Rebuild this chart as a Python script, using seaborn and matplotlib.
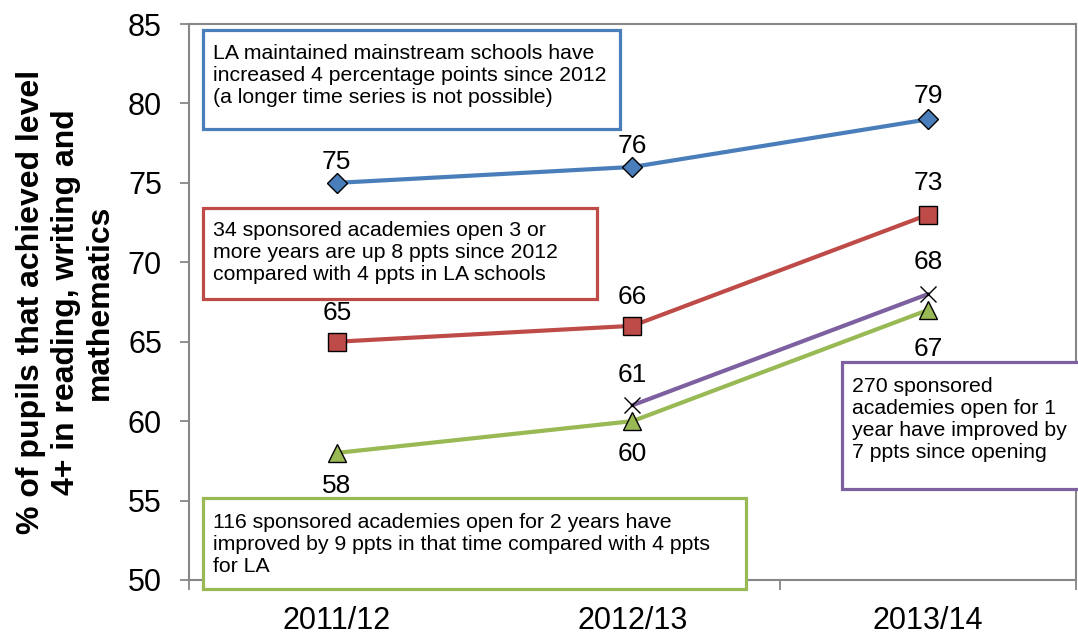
import numpy as np
import pandas as pd
import seaborn as sns
import matplotlib.pyplot as plt
from matplotlib.patches import Rectangle

years = ["2011/12", "2012/13", "2013/14"]
la_schools = [75, 76, 79]
academies_3yr = [65, 66, 73]
academies_1yr = [np.nan, 61, 68]
academies_2yr = [58, 60, 67]

series_names = ["LA maintained", "Academies 3+ yrs", "Academies 1 yr", "Academies 2 yrs"]
series_values = [la_schools, academies_3yr, academies_1yr, academies_2yr]

notes = [
    "LA maintained mainstream schools have\nincreased 4 percentage points since 2012\n(a longer time series is not possible)",
    "34 sponsored academies open 3 or\nmore years are up 8 ppts since 2012\ncompared with 4 ppts in LA schools",
    "270 sponsored\nacademies open for 1\nyear have improved by\n7 ppts since opening",
    "116 sponsored academies open for 2 years have\nimproved by 9 ppts in that time compared with 4 ppts\nfor LA",
]

df = pd.DataFrame({
    "year": years * len(series_names),
    "value": sum(series_values, []),
    "series": np.repeat(series_names, len(years)),
})

sns.set_theme(style="white")
plt.rcParams['font.family'] = ['Liberation Sans', 'DejaVu Sans']
plt.rcParams['text.color'] = 'black'
plt.rcParams['axes.labelcolor'] = 'black'

colors = {"LA maintained": "#4A7EBB", "Academies 3+ yrs": "#BE4B48",
          "Academies 1 yr": "#7D60A0", "Academies 2 yrs": "#98B954"}
markers = {"LA maintained": "D", "Academies 3+ yrs": "s",
           "Academies 1 yr": "x", "Academies 2 yrs": "^"}
msizes = {"LA maintained": 9.7, "Academies 3+ yrs": 13.5, "Academies 1 yr": 12, "Academies 2 yrs": 13.5}
# label offset in points (positive = above the point)
offsets = {"LA maintained": [15, 15, 17], "Academies 3+ yrs": [21, 21, 23],
           "Academies 1 yr": [22, 22, 23], "Academies 2 yrs": [-24, -24, -28]}

fig = plt.figure(figsize=(10.78, 6.37), dpi=100)
ax = fig.add_axes([0.1753, 0.0895, 0.8228, 0.8728])

for name in ["Academies 2 yrs", "Academies 1 yr", "Academies 3+ yrs", "LA maintained"]:
    sub = df[df["series"] == name]
    sns.lineplot(data=sub, x="year", y="value", color=colors[name], marker=markers[name],
                 ms=msizes[name], mec="black", mew=1.0, lw=3, estimator=None,
                 sort=False, ax=ax, zorder=3)
    for i, v in enumerate(sub["value"]):
        if np.isnan(v):
            continue
        ax.annotate(f"{v:.0f}", (i, v), xytext=(0, offsets[name][i]), textcoords="offset points",
                    ha="center", va="center", fontsize=19, color="black", zorder=4)

ax.set_xlim(-0.5, 2.5)
ax.set_ylim(50, 85)
ax.set_yticks(range(50, 86, 5))
ax.set_xticks(range(len(years)))
ax.set_xticklabels(years)
ax.set_xticks([-0.5, 0.5, 1.5, 2.5], minor=True)
ax.tick_params(axis="x", which="major", length=0, labelsize=22, pad=18.5, labelcolor="black")
ax.tick_params(axis="x", which="minor", length=7, width=1.3, color="#878787", direction="out", bottom=True)
ax.tick_params(axis="y", length=6.5, width=1.3, color="#878787", direction="out", left=True,
               labelsize=22, pad=13, labelcolor="black")
ax.set_xlabel("")
ax.set_ylabel("% of pupils that achieved level\n4+ in reading, writing and\nmathematics",
              fontsize=23, fontweight="bold", linespacing=1.2)
ax.yaxis.set_label_coords(-0.083, 0.5)
for sp in ax.spines.values():
    sp.set_color("#878787")
    sp.set_linewidth(1.5)

boxes = [
    ((-0.453, 78.42), 1.411, 6.2, "#4A7EBB", 83.72),
    ((-0.453, 67.72), 1.333, 5.7, "#BE4B48", 72.57),
    ((1.71, 55.70), 0.82, 8.0, "#7D60A0", 62.79),
    ((-0.453, 49.43), 1.837, 5.76, "#98B954", 54.19),
]
for (xy, w, h, ec, ytop), note in zip(boxes, notes):
    ax.add_patch(Rectangle(xy, w, h, facecolor="white", edgecolor=ec, lw=2.3,
                           clip_on=False, zorder=5))
    ax.text(xy[0] + 0.034, ytop, note, ha="left", va="top", fontsize=15.3,
            linespacing=1.2, zorder=6)

fig.savefig("out.png", dpi=100)
